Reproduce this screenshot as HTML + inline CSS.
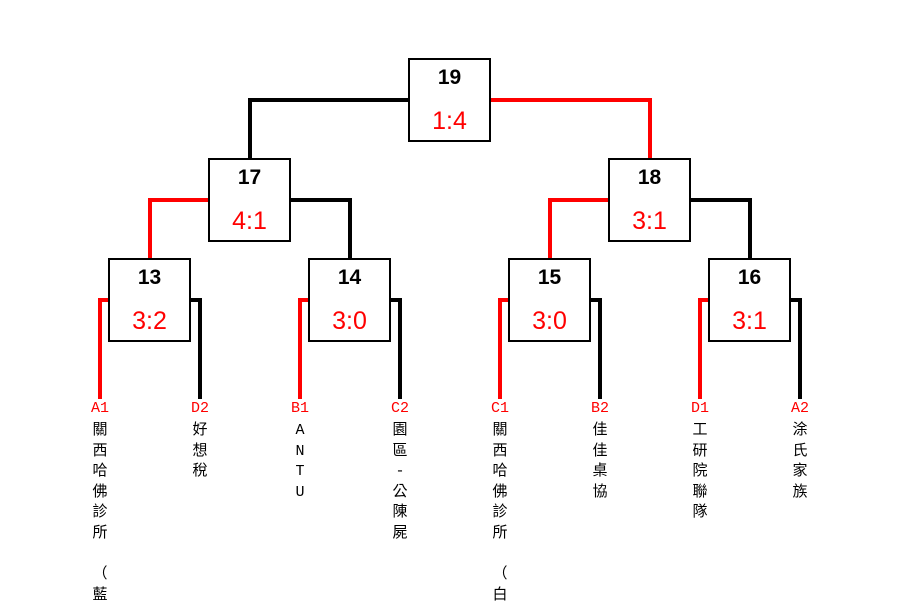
<!DOCTYPE html>
<html><head><meta charset="utf-8"><style>
body{margin:0;width:900px;height:600px;background:#fff;overflow:hidden;position:relative;font-family:"Liberation Sans","Noto Sans CJK TC",sans-serif}
.box{position:absolute;width:79px;height:80px;border:2px solid #000;background:#fff;text-align:center}
.n{position:absolute;left:0;right:0;top:6px;font-size:21px;font-weight:bold;line-height:24px;color:#000}
.s{position:absolute;left:0;right:0;top:46px;font-size:25px;line-height:30px;color:#f00}
.col{position:absolute;width:30px;text-align:center;top:399px;font-family:"Liberation Mono","WenQuanYi Zen Hei","Noto Sans CJK TC",monospace}
.lb{color:#f00;font-size:15px;line-height:20px}
.t{font-size:15px;line-height:20.6px;color:#000;margin-top:2px}
</style></head><body>
<svg width="900" height="600" style="position:absolute;left:0;top:0">
<g fill="none" stroke-width="4">
<polyline points="410,100 250,100 250,160" stroke="#000"/>
<polyline points="490,100 650,100 650,160" stroke="#f00"/>
<polyline points="210,200 150,200 150,260" stroke="#f00"/>
<polyline points="290,200 350,200 350,260" stroke="#000"/>
<polyline points="610,200 550,200 550,260" stroke="#f00"/>
<polyline points="690,200 750,200 750,260" stroke="#000"/>
<polyline points="110,300 100,300 100,399" stroke="#f00"/>
<polyline points="190,300 200,300 200,399" stroke="#000"/>
<polyline points="310,300 300,300 300,399" stroke="#f00"/>
<polyline points="390,300 400,300 400,399" stroke="#000"/>
<polyline points="510,300 500,300 500,399" stroke="#f00"/>
<polyline points="590,300 600,300 600,399" stroke="#000"/>
<polyline points="710,300 700,300 700,399" stroke="#f00"/>
<polyline points="790,300 800,300 800,399" stroke="#000"/>
</g></svg>
<div class="box" style="left:408px;top:58px"><div class="n">19</div><div class="s">1:4</div></div>
<div class="box" style="left:208px;top:158px"><div class="n">17</div><div class="s">4:1</div></div>
<div class="box" style="left:608px;top:158px"><div class="n">18</div><div class="s">3:1</div></div>
<div class="box" style="left:108px;top:258px"><div class="n">13</div><div class="s">3:2</div></div>
<div class="box" style="left:308px;top:258px"><div class="n">14</div><div class="s">3:0</div></div>
<div class="box" style="left:508px;top:258px"><div class="n">15</div><div class="s">3:0</div></div>
<div class="box" style="left:708px;top:258px"><div class="n">16</div><div class="s">3:1</div></div>

<div class="col" style="left:85px"><div class="lb">A1</div><div class="t">關<br>西<br>哈<br>佛<br>診<br>所<br>&nbsp;<br>（<br>藍</div></div>
<div class="col" style="left:185px"><div class="lb">D2</div><div class="t">好<br>想<br>稅</div></div>
<div class="col" style="left:285px"><div class="lb">B1</div><div class="t">A<br>N<br>T<br>U</div></div>
<div class="col" style="left:385px"><div class="lb">C2</div><div class="t">園<br>區<br>-<br>公<br>陳<br>屍</div></div>
<div class="col" style="left:485px"><div class="lb">C1</div><div class="t">關<br>西<br>哈<br>佛<br>診<br>所<br>&nbsp;<br>（<br>白</div></div>
<div class="col" style="left:585px"><div class="lb">B2</div><div class="t">佳<br>佳<br>桌<br>協</div></div>
<div class="col" style="left:685px"><div class="lb">D1</div><div class="t">工<br>研<br>院<br>聯<br>隊</div></div>
<div class="col" style="left:785px"><div class="lb">A2</div><div class="t">涂<br>氏<br>家<br>族</div></div>
</body></html>
